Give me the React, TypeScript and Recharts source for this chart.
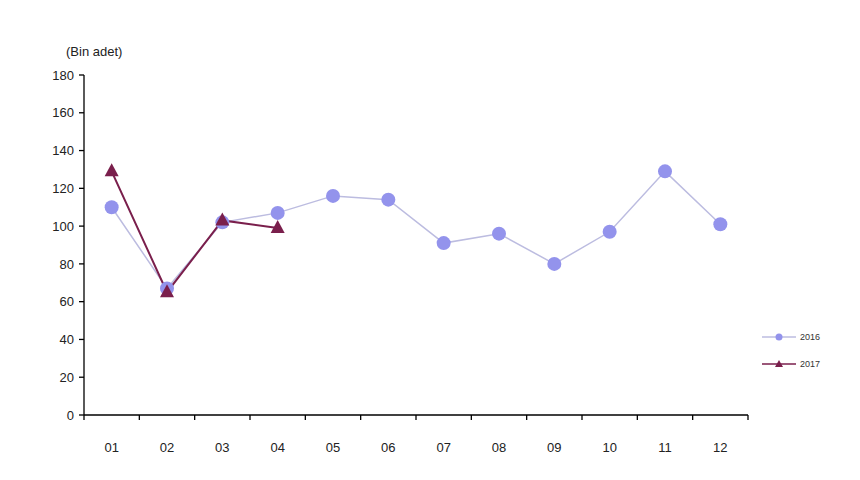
import React from 'react';
import { LineChart, Line, XAxis, YAxis } from 'recharts';

// Monthly values (thousand units)
const MONTHS = ['01', '02', '03', '04', '05', '06', '07', '08', '09', '10', '11', '12'];
const SALES_2016 = [110, 67, 102, 107, 116, 114, 91, 96, 80, 97, 129, 101];
const SALES_2017 = [129, 65, 103, 99];
const Y_TICKS = [0, 20, 40, 60, 80, 100, 120, 140, 160, 180];

const data = MONTHS.map((month, i) => ({
  month,
  y2016: SALES_2016[i],
  y2017: i < SALES_2017.length ? SALES_2017[i] : null,
}));

const W = 860;
const H = 480;
const LEFT = 84;
const RIGHT = 112;
const BAND = (W - LEFT - RIGHT) / MONTHS.length;
const FONT = '"Liberation Sans", Arial, sans-serif';

const C2016_LINE = '#bcbce0';
const C2016_DOT = '#9393ec';
const C2017 = '#7a1f4c';

const MonthTick = (props: any) => {
  const { x, y, payload, index } = props;
  return (
    <g>
      <line x1={x - BAND / 2} x2={x - BAND / 2} y1={y} y2={y + 5} stroke="#000" strokeWidth={1.3} />
      {index === MONTHS.length - 1 && (
        <line x1={x + BAND / 2} x2={x + BAND / 2} y1={y} y2={y + 5} stroke="#000" strokeWidth={1.3} />
      )}
      <text x={x} y={y + 37} textAnchor="middle" fontSize={13} fill="#222" fontFamily={FONT}>
        {payload.value}
      </text>
    </g>
  );
};

const Triangle = (props: any) => {
  const { cx, cy } = props;
  if (cx == null || cy == null) return <g />;
  return <polygon points={`${cx},${cy - 8} ${cx - 7},${cy + 5} ${cx + 7},${cy + 5}`} fill={C2017} />;
};

const LEGEND = [
  { name: '2016', color: C2016_LINE, dot: C2016_DOT, tri: false },
  { name: '2017', color: C2017, dot: C2017, tri: true },
];

export default function App() {
  return (
    <div style={{ position: 'absolute', left: 0, top: 0, width: W, height: H, background: '#fff' }}>
      <div style={{ position: 'absolute', left: 66, top: 44, fontFamily: FONT, fontSize: 13, color: '#222' }}>
        (Bin adet)
      </div>
      <div style={{ position: 'absolute', left: 762, top: 323, fontFamily: FONT, fontSize: 9, color: '#333' }}>
        {LEGEND.map((s) => (
          <div key={s.name} style={{ display: 'flex', alignItems: 'center', height: 27 }}>
            <svg width={34} height={10}>
              <line x1={0} x2={34} y1={5} y2={5} stroke={s.color} strokeWidth={1.5} />
              {s.tri ? (
                <polygon points="17,1 13,8 21,8" fill={s.dot} />
              ) : (
                <circle cx={17} cy={5} r={3.5} fill={s.dot} />
              )}
            </svg>
            <span style={{ marginLeft: 4 }}>{s.name}</span>
          </div>
        ))}
      </div>
      <LineChart width={W} height={H} data={data} margin={{ top: 75, right: RIGHT, bottom: 0, left: 0 }}>
        <XAxis
          dataKey="month"
          scale="band"
          height={65}
          tickLine={false}
          tickSize={0}
          tickMargin={0}
          tick={<MonthTick />}
          axisLine={{ stroke: '#000', strokeWidth: 1.3 }}
          interval={0}
        />
        <YAxis
          width={LEFT}
          domain={[0, 180]}
          ticks={Y_TICKS}
          interval={0}
          tickSize={5}
          tickMargin={5}
          axisLine={{ stroke: '#000', strokeWidth: 1.3 }}
          tickLine={{ stroke: '#000', strokeWidth: 1.3 }}
          tick={{ fontSize: 13, fill: '#222', fontFamily: FONT }}
        />
        <Line
          dataKey="y2016"
          name="2016"
          stroke={C2016_LINE}
          strokeWidth={1.5}
          dot={{ r: 7, fill: C2016_DOT, stroke: 'none' }}
          activeDot={false}
          isAnimationActive={false}
        />
        <Line
          dataKey="y2017"
          name="2017"
          stroke={C2017}
          strokeWidth={2}
          dot={<Triangle />}
          activeDot={false}
          connectNulls={false}
          isAnimationActive={false}
        />
      </LineChart>
    </div>
  );
}
